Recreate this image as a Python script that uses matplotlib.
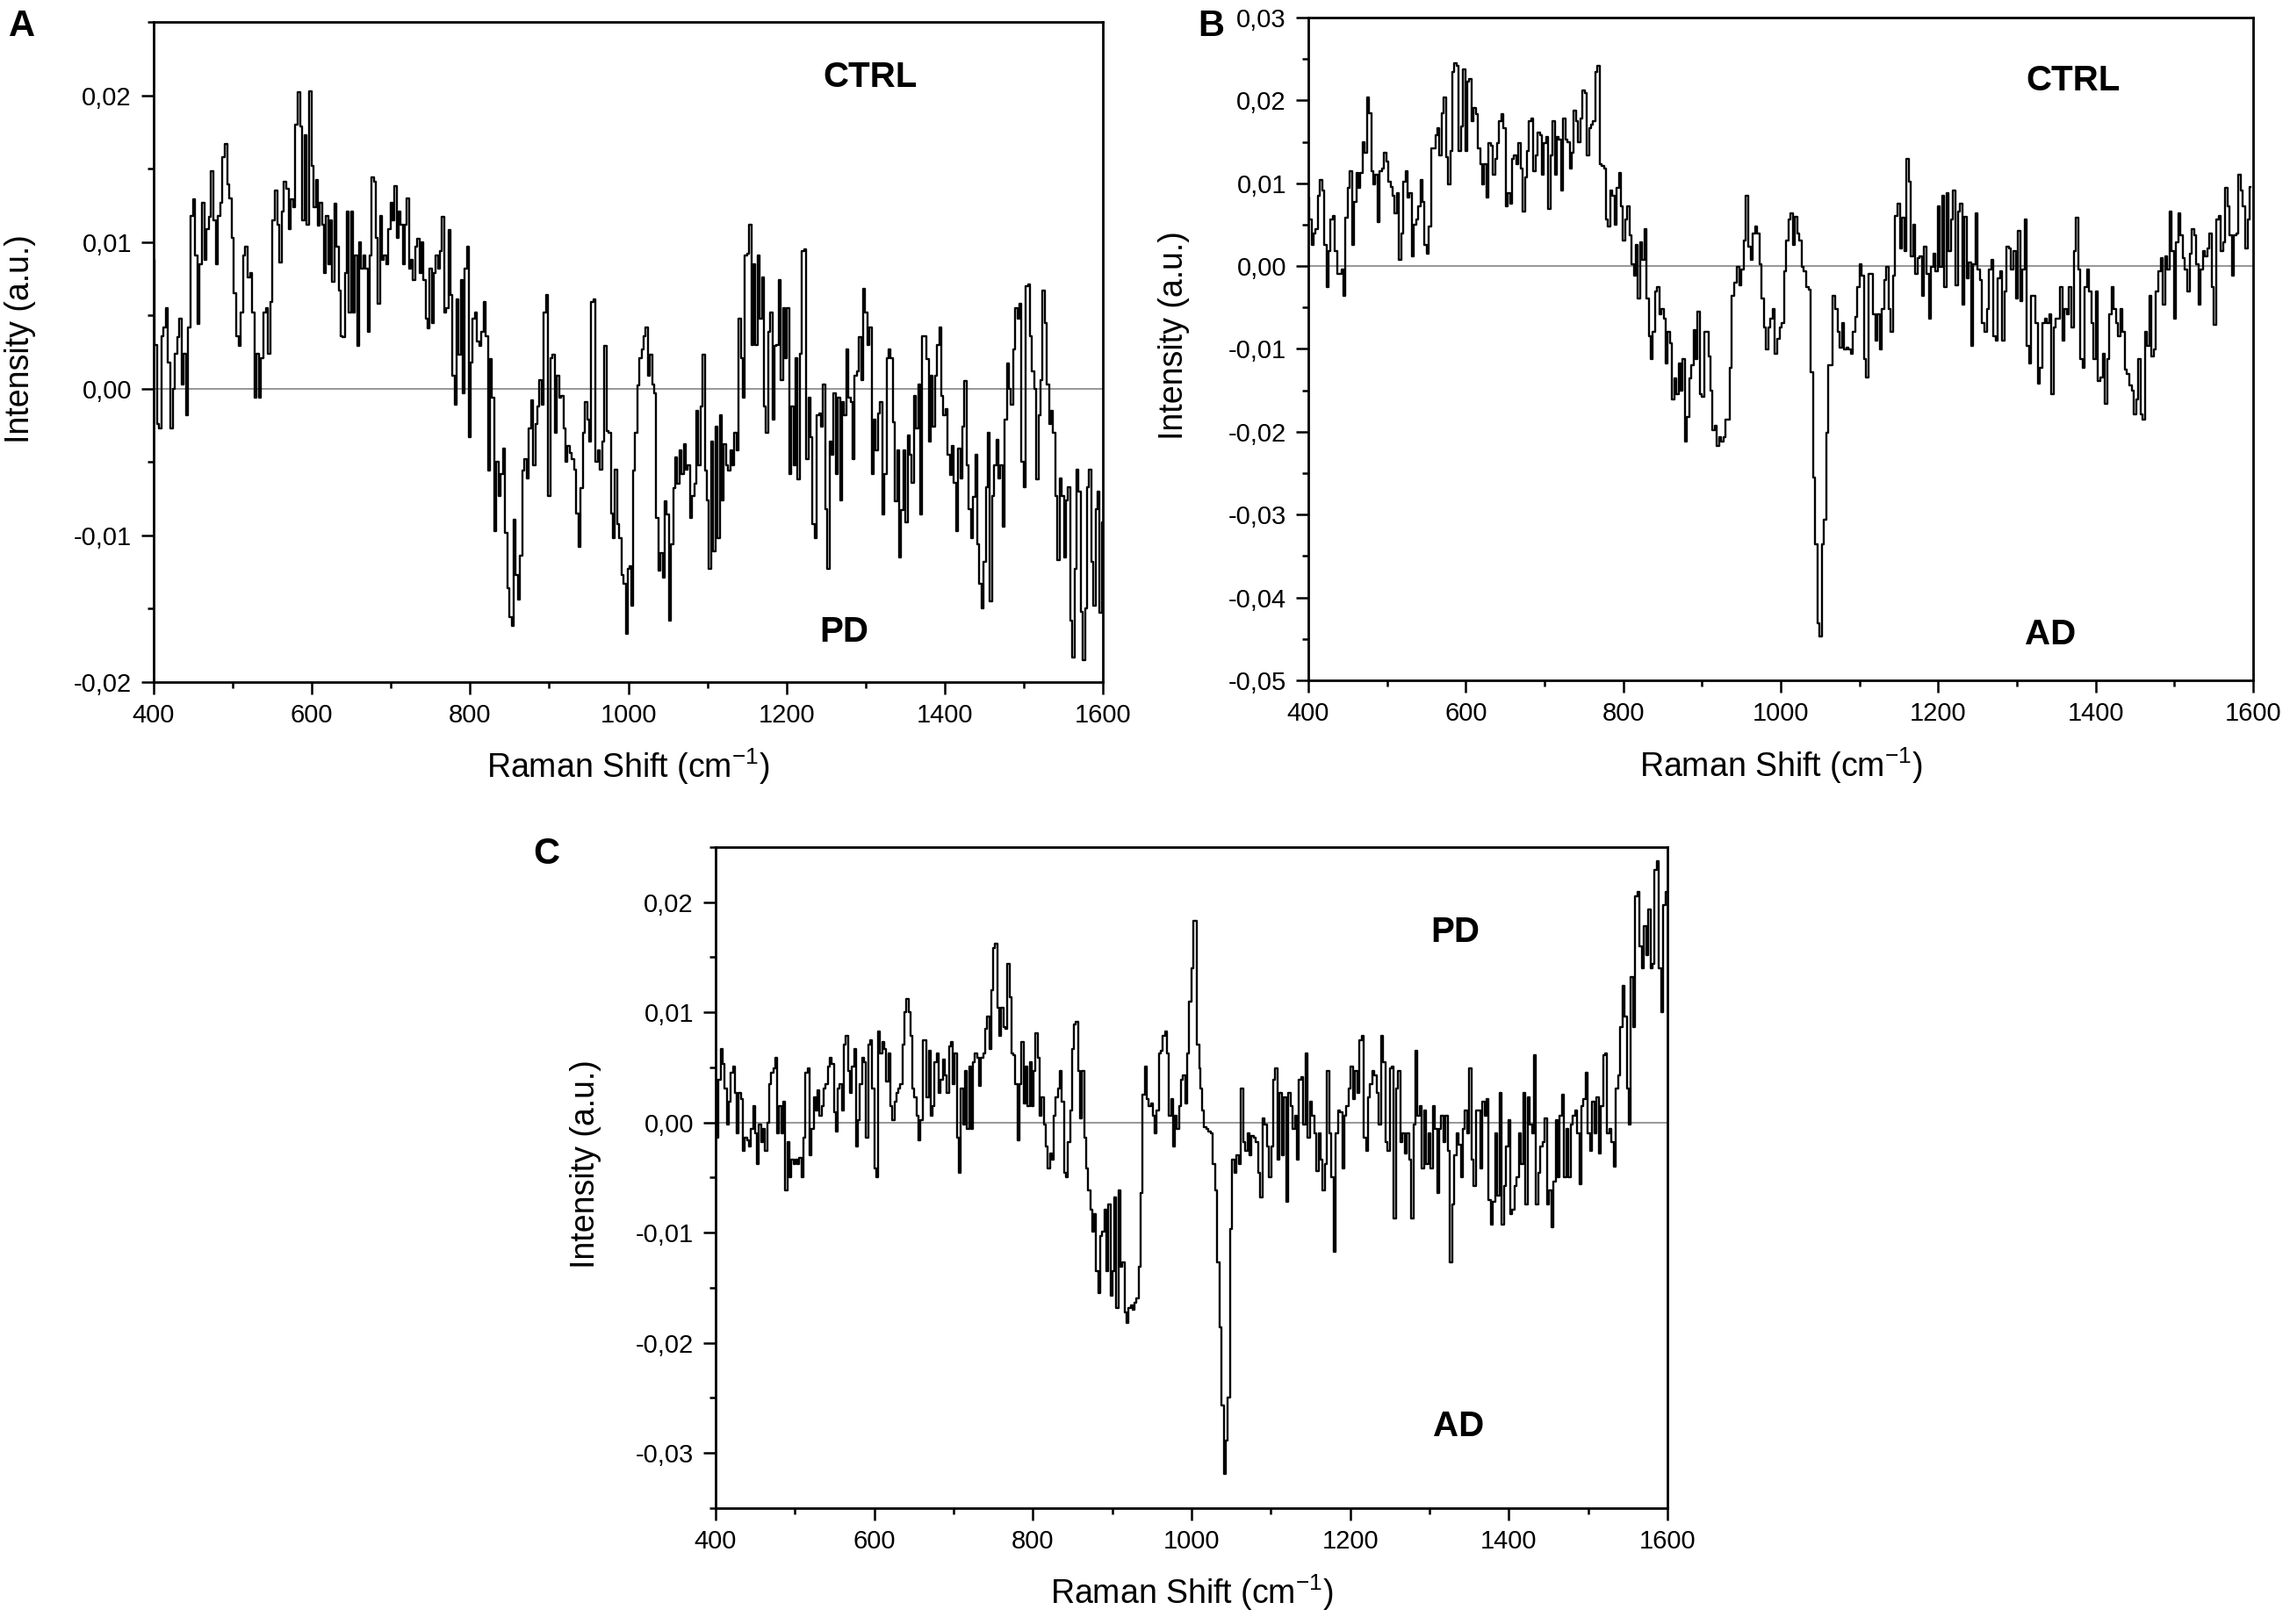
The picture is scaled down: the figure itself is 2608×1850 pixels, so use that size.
import numpy as np
import matplotlib
matplotlib.use("Agg")
import matplotlib.pyplot as plt
from matplotlib.ticker import MultipleLocator, FuncFormatter

plt.rcParams['font.family'] = ['Liberation Sans', 'DejaVu Sans']
plt.rcParams['mathtext.default'] = 'regular'

# difference spectra (units of 1e-3 a.u.)
# every piece goes with the cm-1 range it covers

# A: CTRL - PD
a1_range = (400, 445)
a1 = [8.8, 3, -2.4, -2.7, 3.6, 4.2, 5.5, 1.8, -2.7, 0, 2.4, 3.5, 4.8, 0.3, 2.4, -1.8, 4.2]
a2_range = (448, 598)
a2 = [11.8, 12.9, 9.1, 4.4, 8.5, 12.7, 8.8, 10.9, 11.7, 14.8, 11.5, 8.5, 11.8, 12.7, 15.8, 16.7, 13.9, 13, 10.3, 6.5,
      3.6, 2.9, 5.2, 9.1, 9.7, 7.6, 7.9, 5.2, -0.6, 2.4, -0.6, 2.1, 5.2, 5.5, 2.4, 5.9, 11.5, 13.5, 11.2, 8.6,
      12.1, 14.1, 13.6, 10.9, 12.9, 12.4, 18, 20.2, 17.9, 11.5, 17.3, 11.2, 20.3]
a3_range = (601, 800)
a3 = [15.2, 12.4, 14.2, 11.1, 12.7, 11.2, 7.9, 11.8, 8.5, 11.5, 7.3, 12.6, 9.7, 6.7, 3.6, 3.5, 7.9, 12.1, 5.2, 12.1,
      5.2, 9.1, 2.9, 10, 8.2, 9.1, 8.2, 3.9, 9.1, 14.4, 14.1, 10.3, 5.8, 11.8, 8.8, 9.1, 8.5, 10.9, 12.7, 11.5,
      13.8, 10.3, 12.1, 11.2, 8.5, 11.2, 13, 8.2, 8.8, 7.4, 9.7, 10.2, 7.9, 10, 7.4, 4.8, 4.1, 8.2, 4.5, 7.9,
      9.1, 8.2, 9.4, 11.7, 5.2, 5.5, 10.8, 6.4, 0.9, -1.1, 6.1, 2.3, 7.4, -0.3, 8.2, 9.7, -3.3]
a4_range = (802, 1001)
a4 = [1.8, 4.8, 5.2, 3.2, 2.9, 3.9, 5.9, 3.6, -5.6, 2, -0.6, -9.7, -5, -7.3, -5.8, -4.1, -9.8, -13.6, -15.6, -16.2,
      -8.9, -12.7, -14.4, -11.4, -5.6, -4.8, -6.1, -2.7, -0.8, -5.2, -2.4, -1.2, 0.6, -1.1, 5.2, 6.4, -7.3, 2.1, 2.3, -3,
      0.9, -0.6, -0.5, -2.7, -5, -3.9, -4.4, -4.8, -5.5, -8.5, -10.8, -6.8, -3, -0.9, -2.1, -3.6, 5.9, 6.1, -5, -4.2,
      -5.5, -3.6, 2.9, -2.9, -3, -8.5, -10.2, -5.5, -9.2, -10.2, -12.7, -13.3, -16.7, -12.3]
a5_range = (1002, 1600)
a5 = [-12.1, -14.8, -5.6, -3, 0.2, 2.1, 2.7, 3.6, 4.2, 0.9, 2.3, 0.3, -0.3, -8.8, -12.4, -11.2, -12.9, -7.7, -8.6, -15.8,
      -10.6, -6.8, -4.7, -6.5, -4.2, -5.8, -3.8, -5.5, -5.2, -8.8, -7.3, -6.5, -1.5, -5.2, -1.2, 2.3, -5.6, -7.6, -12.3, -3.6,
      -11.1, -2.6, -10.2, -1.8, -7.6, -3.8, -5.2, -5.6, -4.2, -5.2, -3, -4.2, 4.8, 2.1, -0.6, 9.1, 9.2, 11.2, 3, 8.5,
      3, 9.1, 4.8, 7.6, -1.2, -3, 3.9, 5.2, -2.1, 2.9, 3, 7.4, 0.6, 5.5, 2.1, 5.5, -5.8, -1.2, -5.2, 2.1,
      -6.2, 2.4, 9.4, 9.5, -4.8, -0.6, -3.3, -9.2, -10.2, -1.8, -1.7, -2.6, 0.3, -8.2, -12.3, -3.6, -4.5, -0.3, -5.8, -0.6,
      -7.6, -0.9, -1.8, 2.7, -0.6, -0.9, -4.8, 0.9, 1.2, 3.5, 0.6, 6.8, 5.2, 3, 4.2, -5.8, -2.1, -4.2, -1.7, -0.9,
      -8.6, -5.8, 2.1, 2.7, 2.1, -2.3, -7.7, -4.2, -11.5, -8.3, -4.2, -9.1, -3.2, -4.5, -6.4, -0.5, -2.7, 0.3, -8.6, 3.6,
      3.6, 2, -3.6, 0.9, -2.6, 0.9, 3, 4.2, -0.5, -1.8, -1.4, -4.5, -5.9, -3.9, -6.4, -9.7, -4.1, -6.1, -2.6, 0.5,
      -5.2, -8.2, -10.2, -7.4, -4.5, -10.6, -13.3, -15, -11.8, -6.7, -3, -14.5, -7.3, -5.2, -3.5, -6.1, -5.2, -9.4, -2.1, 1.7,
      0, -1.1, 2.7, 5.5, 4.8, 5.8, -5, -6.7, 7, 7.1, 3.6, 1.2, 0, -6.2, -1.8, 0.6, 6.7, 4.5, 0.3, -2.4,
      -1.5, -3, -7.3, -11.7, -6.1, -7.3, -11.5, -7.6, -6.7, -15.8, -18.3, -12.3, -5.5, -7, -15.2, -18.5, -15, -6.7, -5.5, -11.8,
      -14.8, -8.2, -7, -15.3, -9.1]

# B: CTRL - AD
b1_range = (400, 942)
b1 = [8.3, 5.6, 2.6, 3.9, 4.5, 8.5, 10.4, 9.1, 2.6, -2.5, 1.8, 5.6, 6.1, 1.8, -0.9, -0.9, -0.4, -3.6, 5.8, 9.4,
      11.5, 2.6, 7.7, 11.2, 9.4, 11.2, 15, 13.7, 20.4, 18.5, 11.5, 9.9, 11, 5.3, 11.5, 11.8, 13.7, 12.6, 10.2, 9.6,
      8.5, 6.4, 8.8, 0.7, 3.9, 10.2, 11.5, 8.3, 8.8, 1.2, 5, 5.6, 7.2, 10.4, 7.7, 2.6, 1.5, 4.8, 14.2, 14.2,
      15.8, 16.6, 13.4, 18.5, 20.4, 13.1, 9.9, 13.9, 23.4, 24.5, 24.2, 13.9, 16.9, 23.7, 13.9, 22.3, 22.6, 17.5, 19.1, 18.3,
      14.2, 12.3, 9.9, 12.3, 8.3, 14.8, 14.5, 11, 12.9, 14.8, 17.5, 18.3, 16.6, 7.2, 8.8, 7.5, 12.9, 13.4, 12.3, 14.8,
      11.8, 6.6, 10.7, 13.9, 17.5, 17.8, 11.5, 13.4, 16.1, 15.8, 11, 14.8, 15.6, 6.9, 13.4, 17.5, 11, 15.6, 15.3, 9.1,
      17.8, 15.3, 15, 11.8, 13.7, 18.8, 17.5, 15, 17.8, 21.2, 20.9, 13.4, 16.6, 17.1, 17.5, 23.4, 24.2, 12.3, 12.1, 11.8,
      5.6, 4.8, 9.1, 8.5, 5, 9.4, 11.2, 7.2, 3.1, 5.6, 7.2, 3.7, 0.2, -1.2, 2.6, -3.9, 2.9, 0.7, 4.5, -3.9,
      -8.5, -11.2, -7.9, -3.1, -2.5, -5.8, -5.2, -6.3, -11.7, -7.9, -9.3, -16.1, -13.6, -15.5, -11.7, -15, -11.2, -21.2, -18.2, -13.6,
      -12, -7.7, -11.2, -5.5, -15.5, -15.8, -7.9, -7.9, -10.9, -15, -19.8, -19.3, -21.7, -20.6, -21.2, -20.6, -18.5, -18.5, -12.3, -3.6,
      -2]
b2_range = (946, 1597)
b2 = [-0.1, -2.3, -0.4, 3.1, 8.5, 2.3, 0.7, 3.9, 4.8, 3.9, 0.2, -3.9, -7.4, -10.1, -7.4, -6.3, -5.2, -10.6, -8.8, -7.4,
      -6.9, -0.6, 3.1, 5.6, 6.4, 2.6, 5.9, 3.9, 3.1, -0.1, -0.6, -2.5, -2.8, -12.8, -25.5, -33.6, -43.1, -44.7, -33.6, -30.6,
      -20.1, -12, -12, -3.6, -5.2, -7.9, -9.8, -6.9, -10.1, -9.8, -10.1, -10.6, -7.9, -6.1, -2.5, 0.2, -1.2, -11.2, -13.4, -0.9,
      -0.9, -5.8, -9, -5.8, -10.1, -5.2, -1.7, -0.1, -5.2, -7.9, -1.2, 6.1, 7.5, 2.1, 5.8, 1.8, 12.9, 10.2, 1.2, 5,
      -0.9, 1, 1.2, -3.6, 2.3, -0.9, -6.3, -0.1, 1.5, -0.6, 7.2, -0.1, 8.5, -2.5, 8.8, 1.8, 5.6, 9.1, -2.3, 6.6,
      7.5, -4.7, 5.9, -1.5, 0.4, -9.6, 0.2, 6.4, -0.4, -1.7, -6.9, -7.9, -5.2, -0.4, 0.7, -8.5, -9, -1.5, -0.6, -9,
      -3.1, 2.3, 2.1, -0.4, 1.8, -3.9, 4.2, -4.2, -0.4, 5.6, -9.6, -11.7, -3.6, -3.6, -6.9, -14.2, -12.3, -6.9, -6.3, -6.9,
      -5.8, -15.5, -7.4, -6.3, -6.3, -2.5, -9, -5.2, -5.8, -2.5, -7.4, 1.8, 5.8, -0.4, -11.2, -12.3, -2.5, -0.4, -3.1, -6.9,
      -11.2, -3.1, -13.9, -13.4, -10.6, -16.6, -11.2, -5.8, -2.5, -5.2, -6.9, -8.5, -5.2, -7.9, -12.5, -13, -14.4, -15, -17.9, -16.1,
      -11.2, -17.9, -18.5, -7.9, -9.6, -3.6, -10.9, -10.1, -3.1, -0.6, 1, -4.7, 1.2, -0.4, 6.6, 1.8, -6.3, 2.9, 6.4, 3.7,
      1, -0.4, -3.1, 1.5, 4.5, 3.7, 0.2, -4.7, -0.4, 1.8, 1.2, 2.1, 3.9, -2.5, -7.1, 5.6, 6.1, 1.8, 2.9, 9.4,
      7.2, 3.7, -1.2, 3.7, 3.9, 11, 9.1, 7.2, 2.1, 5.6, 9.6]

# C: PD - AD
c1_range = (400, 1011)
c1 = [3.9, -1.4, 3.9, 6.7, 5.3, 3.1, -0.2, 1.9, 4.5, 5.1, 2.7, -1, 2.7, 2.1, -2.6, -1.4, -1.6, -2.2, -0.6, 1.5,
      -1, -3.8, -0.2, -1.8, -0.6, -2.6, 0, 3.5, 4.5, 4.9, 5.9, -1, 1.5, -1, 1.9, -6.2, -1.8, -5, -3.4, -3.8,
      -3.4, -3.8, -3.2, -5, -1.4, 4.5, 4.9, -3, -0.6, 2.3, 1.1, 2.9, 0.6, 1.5, 3.1, 3.5, 5.1, 5.9, 5.3, 0.9,
      -0.8, 3.1, 3.5, 1.1, 7.1, 7.9, 4.7, 2.7, 5.1, 6.7, -2.2, 0.2, 3.5, 5.9, 5.5, -1.4, 7.1, 7.5, 3.1, -4.2,
      -5, 8.3, 6.3, 7.3, 6.7, 3.7, 6.3, 1.5, 0.2, 1.9, 2.7, 3.1, 3.5, 7.1, 10, 11.2, 10, 7.9, 3.1, 2.3,
      0.6, -1.6, 0.2, 7.5, 7.5, 2.3, 6.5, 0.6, 1.5, 5.5, 6.3, 2.7, 3.9, 5.7, 4.3, 2.7, 6.9, 7.3, 3.5, 6.3,
      -1.4, -4.6, 3.1, -0.2, 4.7, -0.6, 5.1, -0.6, 5.5, 6.3, 5.9, 3.3, 5.9, 6.3, 8.5, 9.6, 6.7, 12, 15.8, 16.2,
      10.4, 7.9, 10.4, 8.7, 8.5, 14.4, 11.4, 6.3, 6.1, 3.5, -1.6, 3.5, 7.3, 1.7, 5.1, 1.5, 5.5, 1.5, 4.7, 8.1,
      5.9, 0.6, 2.3, -0.2, -2.2, -4.2, -2.8, -3.4, 0.6, 2.3, 3.1, 4.7, 1.9, -4.6, -5, -1.8, 1.1, 6.7, 8.9, 9.1,
      4.7, 0.4, 4.7, -1.4, -4.2, -6.2, -7.9, -9.9, -8.3, -13.5, -15.5, -10.3, -9.9, -7.9, -13.5, -7.4, -15.7, -13.5, -6.8, -16.8,
      -6.2, -13.1, -12.7, -17.2, -18.2, -16.8, -16.6, -17, -16.4, -16, -13.1, -6.4, 2.5, 5.1, 2.1, 1.5, 1.7, 0.6, -1, 1.1,
      6.3, 6.5, 7.9, 8.3, 6.3, 0.6, 2.1, -2.2, 0.6, -0.6, 1.5, 3.9, 4.3, 1.7, 6.3, 11, 14, 18.3, 18.3, 7.1,
      4.9]
c2_range = (1012, 1599)
c2 = [3.1, 1.1, -0.4, -0.6, -0.8, -1, -3.8, -6.2, -12.7, -18.6, -25.7, -31.9, -28.9, -25, -9.7, -3.4, -4.6, -3, -3.8, 3.1,
      -1.8, -2.6, -1, -3, -1.2, -1.4, -1.8, -4.6, -6.8, 0.4, -0.2, -2.2, -5, -2.2, 3.9, 4.9, -3.4, 2.7, -3, 2.3,
      -7.2, 2.7, 1.5, -0.6, 0.6, -3.4, 3.9, 4.1, -0.2, 6.3, -1.4, 1.9, 0.6, -1, -4.4, -1, -3.4, -6.2, -3.8, 4.7,
      -1, -5, -11.7, -1, 1.1, 0.9, -4.2, 0.6, 1.5, 3.1, 5.1, 2.1, 4.7, 2.7, 7.5, 7.9, -1.4, -2.6, 2.3, 3.5,
      4.7, 4.3, 2.7, -0.2, 7.9, 5.5, -1.8, -2.6, 4.9, 5.1, -8.7, 3.1, 4.7, -1.8, -1, -2.8, -1, -3.4, -8.7, -0.2,
      6.5, 0.6, 1.5, -4.2, 1.1, -3.8, -1, -4.2, 1.5, -0.6, -6.4, -0.6, 0.6, -1.8, 0.6, -2.6, -12.7, -7.4, -3, -1,
      -2, -5, -0.6, 1.1, -1, 4.9, -3.4, -5.8, 1.1, 1.1, -4.2, 1.9, 0.6, 2.1, -7, -9.3, -7.2, -1, -6.6, 2.7,
      -9.3, -5.8, -2.2, 0.2, -8.3, -7.9, -5.8, -5, -1, -3.8, 2.7, -7.4, 2.3, -0.2, -1, 6.1, -7.4, -4.6, -2.2, -1.8,
      0.4, -7.4, -6.2, -9.5, -5.4, 0.2, -5, 0.6, 2.5, -5, -0.6, -5, -0.2, 0.6, 1.1, -1, -5.6, 1.5, 2.1, 4.5,
      -1, -2.6, 1.9, -1, 2.3, -2.8, 1.5, 6.1, 6.3, -1, -0.6, -1.8, -4, 3.1, 4.3, 8.7, 12.4, 9.6, 3.1, -0.2,
      13.2, 8.7, 20.5, 20.9, 16, 14, 17.8, 15.2, 19.3, 14, 14.4, 22.9, 23.7, 14, 10, 19.7, 20.9]

panels = [
    # letter, pieces, ylim, top label + position, bottom label + position
    ("A", [(a1_range, a1), (a2_range, a2), (a3_range, a3), (a4_range, a4), (a5_range, a5)],
     (-0.02, 0.025), "CTRL", (1306, 0.0212), "PD", (1273, -0.0166)),
    ("B", [(b1_range, b1), (b2_range, b2)], (-0.05, 0.03), "CTRL", (1372, 0.0224), "AD", (1342, -0.0445)),
    ("C", [(c1_range, c1), (c2_range, c2)], (-0.035, 0.025), "PD", (1333, 0.0173), "AD", (1337, -0.0276)),
]
boxes = [
    [0.0671, 0.580, 0.4145, 0.4065],
    [0.5713, 0.5811, 0.4126, 0.4081],
    [0.3125, 0.0714, 0.4156, 0.4070],
]
letter_pos = [(0.004, 0.984), (0.523, 0.984), (0.233, 0.474)]
ylabel_x = [-0.124, -0.125, -0.12]


def comma_fmt(v, pos):
    if abs(v) < 1e-9:
        v = 0.0
    return ("%.2f" % v).replace(".", ",")


fig = plt.figure(figsize=(26.08, 18.5), dpi=100)

for i, (letter, pieces, ylim, top_txt, top_xy, bot_txt, bot_xy) in enumerate(panels):
    ax = fig.add_axes(boxes[i])

    x = np.concatenate([np.linspace(r[0], r[1], len(v)) for r, v in pieces])
    y = np.concatenate([np.array(v) for r, v in pieces]) * 1e-3

    ax.axhline(0, color="#7a7a7a", lw=1.1, zorder=1)
    ax.plot(x, y, color="black", lw=1.7, drawstyle="steps-mid", zorder=2)

    ax.set_xlim(400, 1600)
    ax.set_ylim(*ylim)
    ax.xaxis.set_major_locator(MultipleLocator(200))
    ax.xaxis.set_minor_locator(MultipleLocator(100))
    ax.yaxis.set_major_locator(MultipleLocator(0.01))
    ax.yaxis.set_minor_locator(MultipleLocator(0.005))
    ax.yaxis.set_major_formatter(FuncFormatter(comma_fmt))

    ax.tick_params(which="both", direction="out", top=False, right=False, width=1.8, labelsize=21)
    ax.tick_params(which="major", length=10)
    ax.tick_params(which="minor", length=5)
    ax.tick_params(axis="y", pad=8)
    ax.tick_params(axis="x", pad=7)
    for s in ax.spines.values():
        s.set_linewidth(2.0)

    ax.set_xlabel("Raman Shift (cm$^{-1}$)", fontsize=27)
    ax.set_ylabel("Intensity (a.u.)", fontsize=27)
    ax.xaxis.set_label_coords(0.5, -0.098)
    ax.yaxis.set_label_coords(ylabel_x[i], 0.52)

    ax.text(top_xy[0], top_xy[1], top_txt, fontsize=29, fontweight="bold", ha="center", va="center")
    ax.text(bot_xy[0], bot_xy[1], bot_txt, fontsize=29, fontweight="bold", ha="center", va="center")

    fig.text(letter_pos[i][0], letter_pos[i][1], letter, fontsize=30, fontweight="bold", ha="left", va="center")

fig.savefig("out.png", dpi=100)
